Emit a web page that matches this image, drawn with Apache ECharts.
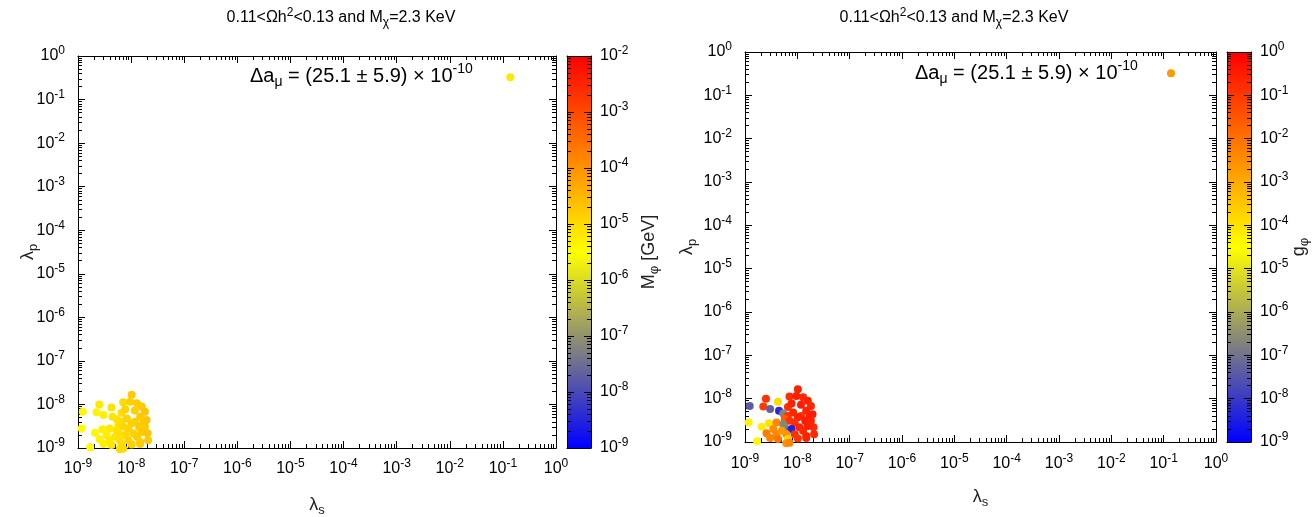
<!DOCTYPE html>
<html><head><meta charset="utf-8">
<script src="https://cdn.jsdelivr.net/npm/echarts@6/dist/echarts.min.js"></script>
<style>html,body{margin:0;padding:0;background:#fff}#c{width:1312px;height:517px}</style>
</head><body><div id="c"></div>
<script>
// ---- data (log10 of the plotted quantities) ----
const log10LambdaS = [-7.99,-8.15,-8.02,-7.89,-7.80,-8.60,-8.37,-8.91,-8.65,-8.52,-8.35,-8.18,-8.11,-7.93,-7.74,-7.83,-7.71,-7.93,-7.77,-8.27,-8.18,-8.08,-7.99,-8.24,-8.15,-8.05,-7.85,-8.93,-8.54,-8.40,-8.68,-8.46,-8.24,-8.11,-7.96,-7.80,-7.69,-8.59,-8.40,-8.21,-8.05,-7.83,-7.68,-8.52,-8.37,-8.18,-7.99,-7.83,-8.77,-8.21,-8.15,-8.27,-8.30,-7.89,-7.74,-0.86];
const log10LambdaP = [-7.78,-7.95,-7.94,-7.97,-8.05,-8.00,-8.07,-8.17,-8.18,-8.24,-8.28,-8.19,-8.11,-8.14,-8.17,-8.28,-8.36,-8.40,-8.43,-8.34,-8.40,-8.32,-8.43,-8.47,-8.51,-8.55,-8.51,-8.55,-8.57,-8.55,-8.65,-8.70,-8.66,-8.70,-8.66,-8.63,-8.66,-8.80,-8.82,-8.82,-8.82,-8.86,-8.82,-8.91,-8.93,-8.93,-8.92,-8.91,-8.98,-9.03,-9.02,-8.59,-8.74,-8.74,-8.51,-0.49];
const log10MPhi = [-4.8,-5.0,-4.85,-4.8,-4.75,-5.2,-5.1,-5.4,-5.35,-5.3,-5.15,-5.05,-4.9,-4.85,-4.7,-4.75,-4.7,-4.85,-4.75,-5.1,-5.0,-4.9,-4.85,-5.1,-4.95,-4.9,-4.75,-5.45,-5.3,-5.2,-5.4,-5.25,-5.05,-4.95,-4.85,-4.75,-4.7,-5.35,-5.2,-5.05,-4.9,-4.8,-4.75,-5.3,-5.15,-5.0,-4.85,-4.8,-5.45,-5.0,-5.0,-5.1,-5.1,-4.8,-4.75,-5.2];
const log10GPhi = [-0.6,-0.8,-0.5,-0.7,-0.6,-0.9,-3.9,-7.4,-1.0,-7.3,-8.3,-0.8,-0.6,-0.5,-0.7,-0.6,-0.5,-0.8,-0.6,-6.7,-0.9,-0.7,-0.6,-1.6,-0.9,-0.8,-0.5,-4.3,-4.0,-2.4,-4.2,-2.5,-6.8,-8.4,-0.6,-0.5,-0.7,-2.2,-2.4,-2.6,-0.8,-0.6,-0.7,-2.3,-2.1,-3.8,-0.9,-0.6,-4.4,-2.6,-2.3,-6.6,-2.7,-0.7,-0.6,-2.7];
const axisExponents = [-9,-8,-7,-6,-5,-4,-3,-2,-1,0];
const mPhiExponents = [-9,-8,-7,-6,-5,-4,-3,-2];
const gPhiExponents = [-9,-8,-7,-6,-5,-4,-3,-2,-1,0];

// ---- styling ----
const FONT = 'Liberation Sans';
const paletteColors = ['#0000ff','#808080','#ffff00','#ff8000','#ff0000'];
function mkRich(size, supSize, color) {
  return {
    n: {fontFamily: FONT, fontSize: size, color, lineHeight: Math.round(size * 1.35)},
    sup: {fontFamily: FONT, fontSize: supSize, color, lineHeight: supSize + 1, verticalAlign: 'top'},
    sub: {fontFamily: FONT, fontSize: supSize, color, lineHeight: supSize + 1, verticalAlign: 'bottom'}
  };
}
const tickRich = mkRich(16, 12, '#000');
const titleRich = mkRich(16, 12, '#000');
const amuRich = mkRich(20, 14, '#000');
const nameRich = mkRich(18, 13, '#222');
const powFmt = v => '{n|10}{sup|' + Math.round(v) + '}';
function minorOf(exps) {
  const out = [];
  for (let i = 0; i < exps.length - 1; i++) for (let k = 2; k <= 9; k++) out.push(exps[i] + Math.log10(k));
  return out;
}

const grids = [], xAxes = [], yAxes = [], series = [];
function addAxes(list, gridIndex, positions, lo, hi, majors, label, z) {
  const minors = minorOf(majors);
  const base = {gridIndex, type: 'value', min: lo, max: hi, splitLine: {show: false}, z: z || 0, nameMoveOverlap: false};
  const idx = list.length;
  positions.forEach((pos, p) => {
    list.push(Object.assign({}, base, {
      position: pos,
      axisLine: {show: true, onZero: false, lineStyle: {color: '#000', width: 1}},
      axisTick: {show: true, inside: true, length: 7, customValues: majors, lineStyle: {color: '#000'}},
      axisLabel: p === 0 && label ? {show: true, customValues: majors, formatter: powFmt, rich: tickRich, margin: label.margin} : {show: false}
    }, p === 0 && label && label.axisName ? label.axisName : {}));
    list.push(Object.assign({}, base, {
      position: pos,
      axisLine: {show: false, onZero: false},
      axisTick: {show: true, inside: true, length: 4, customValues: minors, lineStyle: {color: '#000'}},
      axisLabel: {show: false}
    }));
  });
  return idx;
}
function plainX(gridIndex) {
  ['bottom','top'].forEach(pos => xAxes.push({gridIndex, type: 'value', min: 0, max: 1, position: pos, z: 5,
    axisLine: {show: true, onZero: false, lineStyle: {color: '#000'}}, axisTick: {show: false}, axisLabel: {show: false}, splitLine: {show: false}}));
  return xAxes.length - 2;
}
function scatterData(colorArr) { return log10LambdaS.map((x, i) => [x, log10LambdaP[i], colorArr[i]]); }

function addPanel(rect, cbRect, colorArr, cLo, cHi, cExps, cName, cNameGap, xNameGap, yNameGap, xLabelMargin) {
  const g = grids.length;
  grids.push(Object.assign({outerBoundsMode: 'none', containLabel: false}, rect));
  const xi = addAxes(xAxes, g, ['bottom','top'], -9, 0, axisExponents,
    {margin: xLabelMargin, axisName: {name: '{n|λ}{sub|s}', nameLocation: 'middle', nameGap: xNameGap, nameTextStyle: {rich: nameRich}}});
  const yi = addAxes(yAxes, g, ['left','right'], -9, 0, axisExponents,
    {margin: 13, axisName: {name: '{n|λ}{sub|p}', nameLocation: 'middle', nameRotate: 90, nameGap: yNameGap, nameTextStyle: {rich: nameRich}}});
  const si = series.length;
  series.push({type: 'scatter', xAxisIndex: xi, yAxisIndex: yi, data: scatterData(colorArr), symbolSize: 8, clip: false, itemStyle: {opacity: 1}, z: 3});
  // colour box
  const c = grids.length;
  grids.push(Object.assign({outerBoundsMode: 'none', containLabel: false}, cbRect));
  const cx = plainX(c);
  const cy = addAxes(yAxes, c, ['right','left'], cLo, cHi, cExps,
    {margin: 9, axisName: {name: cName, nameLocation: 'middle', nameRotate: 90, nameGap: cNameGap, nameTextStyle: {rich: nameRich}}}, 5);
  series.push({type: 'custom', xAxisIndex: cx, yAxisIndex: cy, data: [[0.5, cLo]], silent: true, z: 1, clip: false,
    renderItem: (params) => ({type: 'rect', shape: {x: params.coordSys.x, y: params.coordSys.y, width: params.coordSys.width, height: params.coordSys.height},
      style: {fill: new echarts.graphic.LinearGradient(0, 1, 0, 0, paletteColors.map((col, k) => ({offset: k / (paletteColors.length - 1), color: col})))}})});
  return {si, cLo, cHi};
}

const p1 = addPanel({left: 78, top: 56, width: 478, height: 392}, {left: 567, top: 56, width: 24, height: 392},
  log10MPhi, -9, -2, mPhiExponents, '{n|M}{sub|φ}{n| [GeV]}', 46, 45, 38, 10);
const p2 = addPanel({left: 745, top: 52, width: 471, height: 390}, {left: 1227, top: 52, width: 24, height: 390},
  log10GPhi, -9, 0, gPhiExponents, '{n|g}{sub|φ}', 36, 43, 46, 11);

const titleText = '{n|0.11<Ωh}{sup|2}{n|<0.13 and M}{sub|χ}{n|=2.3 KeV}';
const amuText = '{n|Δa}{sub|μ}{n| = (25.1 ± 5.9) × 10}{sup|-10}';
const option = {
  backgroundColor: '#fff',
  animation: false,
  grid: grids,
  xAxis: xAxes,
  yAxis: yAxes,
  visualMap: [
    {type: 'continuous', show: false, seriesIndex: p1.si, dimension: 2, min: p1.cLo, max: p1.cHi, inRange: {color: paletteColors}},
    {type: 'continuous', show: false, seriesIndex: p2.si, dimension: 2, min: p2.cLo, max: p2.cHi, inRange: {color: paletteColors}}
  ],
  graphic: [
    {type: 'text', x: 341, y: 18, style: {text: titleText, rich: titleRich, align: 'center', verticalAlign: 'middle'}},
    {type: 'text', x: 954, y: 18, style: {text: titleText, rich: titleRich, align: 'center', verticalAlign: 'middle'}},
    {type: 'text', x: 250, y: 76, style: {text: amuText, rich: amuRich, align: 'left', verticalAlign: 'middle'}},
    {type: 'text', x: 915, y: 73, style: {text: amuText, rich: amuRich, align: 'left', verticalAlign: 'middle'}}
  ],
  series
};
const chart = echarts.init(document.getElementById('c'), null, {renderer: 'canvas'});
chart.setOption(option);
</script></body></html>
